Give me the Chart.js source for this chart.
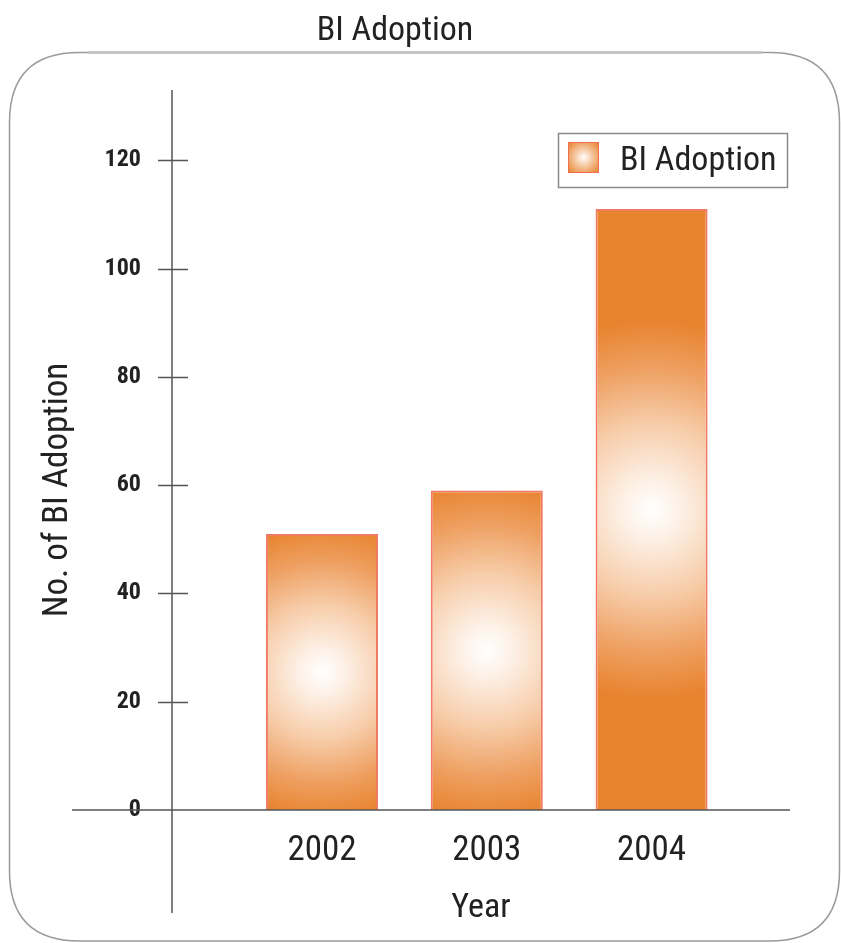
<!DOCTYPE html>
<html>
<head>
<meta charset="utf-8">
<title>BI Adoption</title>
<script src="https://cdn.jsdelivr.net/npm/chart.js@4.4.1/dist/chart.umd.min.js"></script>
<style>
  html, body { margin: 0; padding: 0; background: #fff; }
  #wrap { width: 841px; height: 943px; }
</style>
</head>
<body>
<div id="wrap"><canvas id="biChart" width="841" height="943"></canvas></div>
<script>
// ---- data ----
const years = ['2002', '2003', '2004'];
const adoption = [51, 59, 111];
const yTicks = [0, 20, 40, 60, 80, 100, 120];
const yTitle = 'No. of BI Adoption';

const ORANGE = '#e8832e';

// the original uses a narrow grotesque; find a condensed face that is installed
function pickFont() {
  const probe = document.createElement('canvas').getContext('2d');
  const candidates = [
    { family: "'Liberation Sans Narrow'", stretch: '' },
    { family: "'DejaVu Sans Condensed'", stretch: '' },
    { family: "'Roboto Condensed'", stretch: '' },
    { family: "'Open Sans'", stretch: 'condensed' },
    { family: "'Noto Sans'", stretch: 'condensed' },
    { family: "'DejaVu Sans'", stretch: 'condensed' },
    { family: "Roboto", stretch: 'condensed' }
  ];
  probe.font = "37px 'Liberation Sans'";
  const wide = probe.measureText('BI Adoption').width;
  for (const c of candidates) {
    probe.font = (c.stretch ? c.stretch + ' ' : '') + '37px ' + c.family + ', serif';
    const w = probe.measureText('BI Adoption').width;
    if (w < wide * 0.9) return { ...c, k: 156 / w };
  }
  return { family: "'Liberation Sans'", stretch: '', k: 156 / wide };
}
const F = pickFont();
const fnt = (size, weight) => ({
  family: F.family,
  size: Math.round(size * F.k),
  weight: (F.stretch ? F.stretch + ' ' : '') + (weight || 'normal')
});
const fntStr = (size, weight) => {
  const f = fnt(size, weight);
  return f.weight + ' ' + f.size + 'px ' + f.family;
};

// radial white-to-orange fill, centred on the bar
function barFill(ctx) {
  const chart = ctx.chart;
  const xs = chart.scales.x, ys = chart.scales.y;
  if (!xs || !ys || ctx.type !== 'data') return ORANGE;
  const cx = xs.getPixelForValue(ctx.dataIndex);
  const top = ys.getPixelForValue(adoption[ctx.dataIndex]);
  const base = ys.getPixelForValue(0);
  if (![cx, top, base].every(Number.isFinite) || base - top <= 0) return ORANGE;
  const cy = (top + base) / 2;
  const r = Math.min((base - top) / 2 + 10, 190);
  const g = chart.ctx.createRadialGradient(cx, cy, 0, cx, cy, r);
  g.addColorStop(0, '#ffffff');
  g.addColorStop(0.15, '#fdf1e7');
  g.addColorStop(0.45, '#f7cdaa');
  g.addColorStop(0.75, '#ee9f60');
  g.addColorStop(1, ORANGE);
  return g;
}

// rounded frame + crossed axes + boxed legend + y title
const decor = {
  id: 'decor',
  beforeDraw(chart) {
    const c = chart.ctx;
    c.save();
    c.fillStyle = '#fff';
    c.fillRect(0, 0, chart.width, chart.height);
    const x0 = 9.5, y0 = 52.5, x1 = 839.5, y1 = 941, r = 70;
    c.strokeStyle = '#9a9a9a';
    c.lineWidth = 1.5;
    c.beginPath();
    c.moveTo(x0 + r, y0);
    c.lineTo(x1 - r, y0);
    c.quadraticCurveTo(x1, y0, x1, y0 + r);
    c.lineTo(x1, y1 - r);
    c.quadraticCurveTo(x1, y1, x1 - r, y1);
    c.lineTo(x0 + r, y1);
    c.quadraticCurveTo(x0, y1, x0, y1 - r);
    c.lineTo(x0, y0 + r);
    c.quadraticCurveTo(x0, y0, x0 + r, y0);
    c.stroke();
    c.strokeStyle = '#c4c4c4';
    c.lineWidth = 3;
    c.beginPath();
    c.moveTo(x0 + r + 8, y0);
    c.lineTo(x1 - r - 8, y0);
    c.stroke();
    c.restore();
  },
  afterDraw(chart) {
    const c = chart.ctx, a = chart.chartArea;
    const ys = chart.scales.y;
    const ax = a.left, ay = ys.getPixelForValue(0);
    c.save();
    c.strokeStyle = '#555';
    c.lineWidth = 1.5;
    c.beginPath();
    c.moveTo(ax, a.top);
    c.lineTo(ax, 913);
    c.moveTo(72, ay);
    c.lineTo(a.right, ay);
    yTicks.forEach(v => {
      if (v === 0) return;
      const y = Math.round(ys.getPixelForValue(v)) + 0.5;
      c.moveTo(ax - 14, y);
      c.lineTo(ax + 16, y);
    });
    c.stroke();

    // y axis title, sits a little below the middle of the axis
    c.fillStyle = '#222';
    c.font = fntStr(38);
    c.textAlign = 'center';
    c.textBaseline = 'middle';
    c.save();
    c.translate(58, 490);
    c.rotate(-Math.PI / 2);
    c.fillText(yTitle, 0, 0);
    c.restore();

    // legend
    const lx = 558, ly = 133, lw = 229, lh = 54;
    c.strokeStyle = '#8a8a8a';
    c.lineWidth = 1.5;
    c.strokeRect(lx + 0.5, ly + 0.5, lw, lh);
    const sx = 568, sy = 142, ss = 31;
    const g = c.createRadialGradient(sx + ss / 2, sy + ss / 2, 0, sx + ss / 2, sy + ss / 2, ss / 1.5);
    g.addColorStop(0, '#ffffff');
    g.addColorStop(0.4, '#f6caa5');
    g.addColorStop(1, ORANGE);
    c.fillStyle = g;
    c.fillRect(sx, sy, ss, ss);
    c.strokeStyle = '#ef6f4f';
    c.lineWidth = 1;
    c.strokeRect(sx + 0.5, sy + 0.5, ss - 1, ss - 1);
    c.fillStyle = '#222';
    c.font = fntStr(37);
    c.textBaseline = 'middle';
    c.textAlign = 'left';
    c.fillText(chart.data.datasets[0].label, 620, ly + lh / 2 + 1);
    c.restore();
  }
};

const titleFont = fnt(37);

new Chart(document.getElementById('biChart'), {
  type: 'bar',
  data: {
    datasets: [{
      label: 'BI Adoption',
      data: adoption.map((v, i) => ({ x: i, y: v })),
      backgroundColor: barFill,
      borderColor: '#f07a64',
      borderWidth: 2,
      categoryPercentage: 1,
      barPercentage: 0.68
    }]
  },
  plugins: [decor],
  options: {
    responsive: false,
    animation: false,
    layout: { padding: { top: 0, right: 51, bottom: 0, left: 0 } },
    plugins: {
      legend: { display: false },
      tooltip: { enabled: false },
      title: {
        display: true,
        text: 'BI Adoption',
        color: '#222',
        font: titleFont,
        padding: { top: 11, bottom: 90 - 11 - titleFont.size * 1.2 }
      }
    },
    scales: {
      x: {
        type: 'linear',
        min: -0.91,
        max: 2.84,
        offset: false,
        afterBuildTicks: s => { s.ticks = years.map((_, i) => ({ value: i })); },
        afterFit: s => { s.height = 133; },
        grid: { display: false, drawTicks: false },
        border: { display: false },
        ticks: {
          autoSkip: false,
          maxRotation: 0,
          padding: 20,
          color: '#222',
          font: fnt(38),
          callback: v => years[v]
        },
        title: {
          display: true,
          text: 'Year',
          color: '#222',
          font: fnt(37),
          padding: { top: 0, bottom: 14 }
        }
      },
      y: {
        min: 0,
        max: 133,
        afterBuildTicks: s => { s.ticks = yTicks.map(v => ({ value: v })); },
        afterFit: s => { s.width = 172; },
        grid: { display: false, drawTicks: false },
        border: { display: false },
        ticks: {
          padding: 31,
          color: '#222',
          font: fnt(26, 'bold')
        }
      }
    }
  }
});
</script>
</body>
</html>
